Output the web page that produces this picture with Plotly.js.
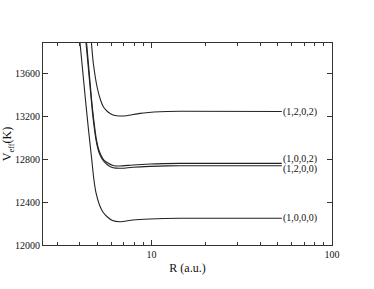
<!DOCTYPE html>
<html>
<head>
<meta charset="utf-8">
<script src="https://cdn.plot.ly/plotly-3.0.1.min.js"></script>
<style>html,body{margin:0;padding:0;background:#fff;}#chart{width:374px;height:289px;}</style>
</head>
<body>
<div id="chart"></div>
<script>
// Series (R in a.u., V_eff in K)
const labels = ["(1,2,0,2)", "(1,0,0,2)", "(1,2,0,0)", "(1,0,0,0)"];

const R_1202 = [4.64, 4.75, 5.00, 5.21, 5.41, 5.73, 6.11, 6.53, 7.27, 8.61, 11.1, 14.35, 52.7];
const V_1202 = [13890, 13703, 13469, 13357, 13291, 13244, 13216, 13207, 13210, 13232, 13247, 13251, 13249];

const R_1002 = [4.36, 4.65, 4.78, 4.95, 5.10, 5.23, 5.44, 5.73, 6.11, 6.67, 7.88, 9.79, 14.35, 52.7];
const V_1002 = [13890, 13357, 13170, 12982, 12889, 12842, 12795, 12767, 12744, 12739, 12749, 12758, 12764, 12764];

const R_1200 = [4.33, 4.63, 4.75, 4.92, 5.06, 5.18, 5.36, 5.62, 5.95, 6.34, 6.85, 7.88, 9.79, 14.35, 52.7];
const V_1200 = [13890, 13357, 13170, 12982, 12889, 12842, 12795, 12758, 12730, 12719, 12718, 12728, 12736, 12742, 12742];

const R_1000 = [4.01, 4.30, 4.47, 4.66, 4.79, 4.92, 5.14, 5.37, 5.69, 6.07, 6.67, 7.88, 9.79, 14.35, 52.7];
const V_1000 = [13890, 13357, 13076, 12795, 12608, 12487, 12374, 12309, 12262, 12229, 12218, 12234, 12243, 12250, 12250];

const xTickVals = [10, 100];
const xTickText = ["10", "100"];
const xMinorVals = [3, 4, 5, 6, 7, 8, 9, 20, 30, 40, 50, 60, 70, 80, 90];
const yTickVals = [12000, 12400, 12800, 13200, 13600];
const yTickText = ["12000", "12400", "12800", "13200", "13600"];

const series = [
  {x: R_1202, y: V_1202, name: labels[0], yshift: 0},
  {x: R_1002, y: V_1002, name: labels[1], yshift: 4.5},
  {x: R_1200, y: V_1200, name: labels[2], yshift: -3},
  {x: R_1000, y: V_1000, name: labels[3], yshift: 0}
];

const font = "Liberation Serif";
const lineColor = "#222";

const traces = series.map(s => ({
  x: s.x, y: s.y, mode: "lines", type: "scatter", name: s.name,
  line: {color: lineColor, width: 1.1, shape: "spline", smoothing: 0.7},
  showlegend: false, hoverinfo: "skip"
}));

const annotations = series.map(s => ({
  x: Math.log10(s.x[s.x.length - 1]), y: s.y[s.y.length - 1],
  xref: "x", yref: "y", text: s.name, showarrow: false,
  xanchor: "left", yanchor: "middle", xshift: -1, yshift: s.yshift,
  font: {family: font, size: 10, color: "#111"}
}));

const layout = {
  width: 374, height: 289,
  margin: {l: 43, r: 42, t: 43, b: 44},
  paper_bgcolor: "#fff", plot_bgcolor: "#fff",
  font: {family: font, size: 10, color: "#111"},
  showlegend: false,
  xaxis: {
    type: "log", range: [Math.log10(2.5), 2],
    tickmode: "array", tickvals: xTickVals, ticktext: xTickText,
    ticks: "inside", ticklen: 5, tickwidth: 1, tickcolor: "#333",
    minor: {tickmode: "array", tickvals: xMinorVals, ticks: "inside", ticklen: 3, tickwidth: 1, tickcolor: "#333"},
    showline: true, linecolor: "#333", linewidth: 1, mirror: "allticks",
    showgrid: false, zeroline: false,
    tickfont: {family: font, size: 10, color: "#111"},
    title: {text: "R (a.u.)", font: {family: font, size: 12, color: "#111"}, standoff: 4}
  },
  yaxis: {
    range: [12000, 13890],
    tickmode: "array", tickvals: yTickVals, ticktext: yTickText,
    ticks: "inside", ticklen: 5, tickwidth: 1, tickcolor: "#333",
    showline: true, linecolor: "#333", linewidth: 1, mirror: "allticks",
    showgrid: false, zeroline: false,
    tickfont: {family: font, size: 10, color: "#111"},
    title: {text: "V<sub>eff</sub>(K)", font: {family: font, size: 12, color: "#111"}, standoff: 4}
  },
  annotations: annotations
};

Plotly.newPlot("chart", traces, layout, {displayModeBar: false, staticPlot: true});
</script>
</body>
</html>
